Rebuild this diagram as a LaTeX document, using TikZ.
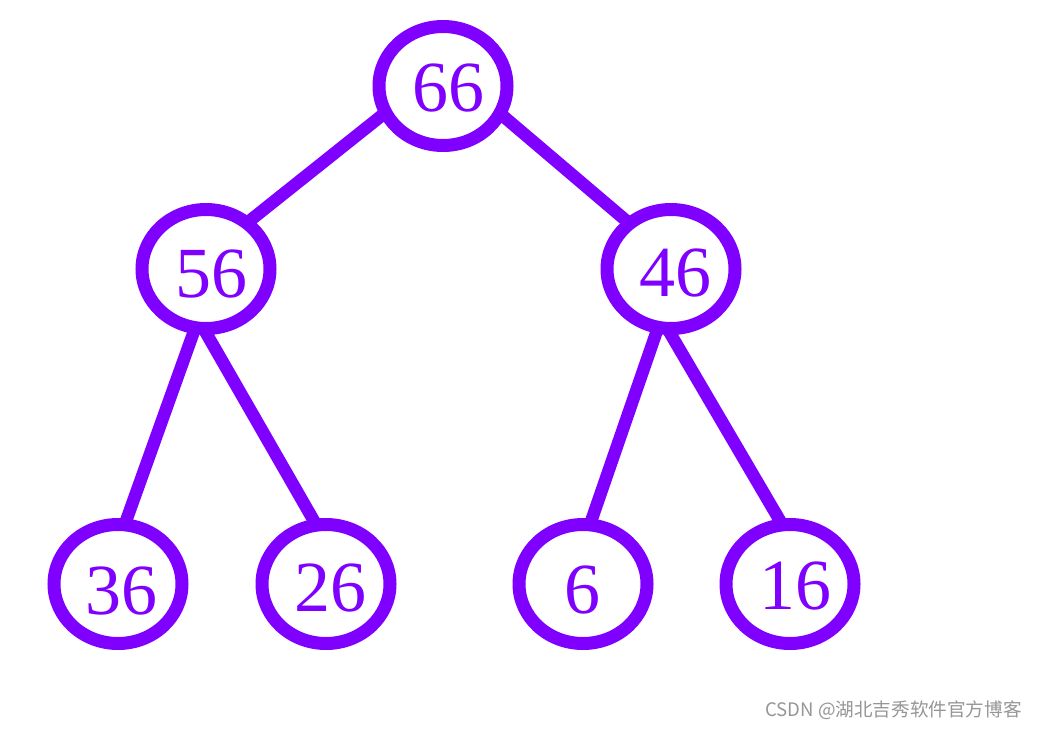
\documentclass[tikz,border=0pt]{standalone}
\usepackage{fontspec}
\setmainfont{Liberation Serif}
\newfontfamily\cjk{Noto Sans CJK SC}
\usetikzlibrary{shapes.geometric,calc,backgrounds}
\definecolor{heapviolet}{RGB}{128,0,255}
\definecolor{markgray}{RGB}{150,150,150}
\tikzset{
  ring/.style={ellipse, draw=heapviolet, line width=13pt, fill=white,
    minimum width=128pt, minimum height=119pt, inner sep=0pt},
  num/.style={text=heapviolet, inner sep=0pt, font=\fontsize{72}{80}\selectfont},
  edge/.style={draw=heapviolet, line width=12.5pt}
}
\begin{document}
\begin{tikzpicture}[x=1pt,y=-1pt]
\useasboundingbox (0,0) rectangle (1038,728);
\node[ring] (n66) at (443,86) {};
\node[ring] (n56) at (206,269) {};
\node[ring] (n46) at (671,269) {};
\node[ring] (n36) at (118,584) {};
\node[ring] (n26) at (326,584) {};
\node[ring] (n6)  at (583,584) {};
\node[ring] (n16) at (790,584) {};
\node[num] (t66) at (448,88.5) {66};
\node[num] (t56) at (211,274) {56};
\node[num] (t46) at (675,273) {46};
\node[num] (t36) at (121,591) {36};
\node[num] (t26) at (330,588) {26};
\node[num] (t6)  at (582,590) {6};
\node[num] (t16) at (795,586) {16};
\begin{scope}[on background layer]
  \fill[white] (0,0) rectangle (1038,728);
  \draw[edge] ($(n66)+(-43,15)$) -- ($(n56)+(34,-40.5)$);
  \draw[edge] ($(n66)+(43,15.5)$) -- ($(n46)+(-31,-36.6)$);
  \draw[edge] ($(n56)+(-9.8,56)$) -- ($(n36)+(6.6,-59)$);
  \draw[edge] ($(n56)+(-4.5,56)$) -- ($(n26)+(-9.7,-59)$);
  \draw[edge] ($(n46)+(-12.1,56)$) -- ($(n6)+(6.8,-59)$);
  \draw[edge] ($(n46)+(-5.7,56)$) -- ($(n16)+(-7.5,-59)$);
\end{scope}
\node[text=markgray, inner sep=0pt, font=\cjk\fontsize{18.6}{21}\selectfont] (mark) at (893.5,710) {CSDN @湖北吉秀软件官方博客};
\end{tikzpicture}
\end{document}
